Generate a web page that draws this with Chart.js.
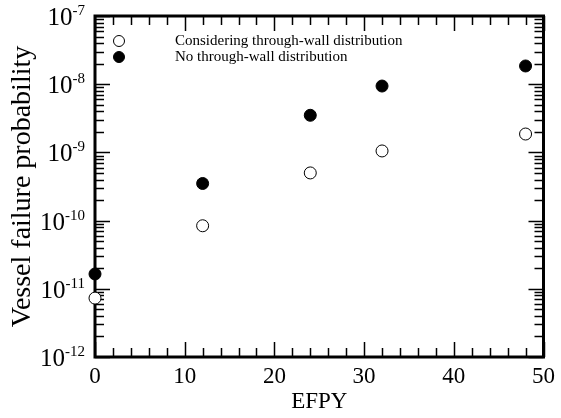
<!DOCTYPE html>
<html>
<head>
<meta charset="utf-8">
<script src="https://cdn.jsdelivr.net/npm/chart.js@4.4.0/dist/chart.umd.min.js"></script>
<style>
  html, body { margin: 0; padding: 0; background: #fff; }
  #wrap { width: 561px; height: 418px; }
</style>
</head>
<body>
<div id="wrap"><canvas id="chart" width="561" height="418"></canvas></div>
<script>
// EFPY values and failure probabilities
const efpy = [0, 12, 24, 32, 48];
const withThroughWall = [7.3e-12, 8.4e-11, 5.0e-10, 1.05e-9, 1.86e-9];
const noThroughWall = [1.65e-11, 3.5e-10, 3.5e-9, 9.4e-9, 1.85e-8];
const xMajorTicks = [0, 10, 20, 30, 40, 50];
const yExponents = [-12, -11, -10, -9, -8, -7];
const legendLabels = ['Considering through-wall distribution', 'No through-wall distribution'];

const FONT = '"Liberation Serif", "Times New Roman", serif';

function toPoints(ys) {
    return efpy.map((x, i) => ({ x: x, y: ys[i] }));
}

// Frame, inward ticks on all four sides, y labels with superscripts, legend
const framePlugin = {
    id: 'frame',
    beforeDatasetsDraw(chart) {
        const ctx = chart.ctx;
        const a = chart.chartArea;
        const xs = chart.scales.x;
        const ys = chart.scales.y;
        ctx.save();
        ctx.strokeStyle = '#000';
        ctx.lineWidth = 1.5;

        // x ticks (bottom and top)
        for (let v = 0; v <= 50; v += 2) {
            const px = Math.round(xs.getPixelForValue(v)) + 0.5;
            const len = v % 10 === 0 ? 15 : 9;
            ctx.beginPath();
            ctx.moveTo(px, a.bottom); ctx.lineTo(px, a.bottom - len);
            ctx.moveTo(px, a.top); ctx.lineTo(px, a.top + len);
            ctx.stroke();
        }
        // y ticks (left and right)
        yExponents.forEach(e => {
            for (let m = 1; m <= 9; m++) {
                if (e === -7 && m > 1) break;
                const py = Math.round(ys.getPixelForValue(m * Math.pow(10, e))) + 0.5;
                const len = m === 1 ? 15 : 9;
                ctx.beginPath();
                ctx.moveTo(a.left, py); ctx.lineTo(a.left + len, py);
                ctx.moveTo(a.right, py); ctx.lineTo(a.right - len, py);
                ctx.stroke();
            }
        });

        // frame
        ctx.lineWidth = 3;
        ctx.strokeRect(a.left, a.top, a.right - a.left, a.bottom - a.top);

        // y tick labels 10^e
        ctx.fillStyle = '#000';
        ctx.textBaseline = 'alphabetic';
        yExponents.forEach(e => {
            const py = ys.getPixelForValue(Math.pow(10, e));
            const expText = String(e);
            ctx.font = '15px ' + FONT;
            const ew = ctx.measureText(expText).width;
            const right = a.left - 10;
            ctx.textAlign = 'left';
            ctx.fillText(expText, right - ew, py - 1);
            ctx.font = '25px ' + FONT;
            ctx.textAlign = 'right';
            ctx.fillText('10', right - ew, py + 9);
        });

        // legend
        const lx = a.left + 24;
        const rows = [a.top + 25, a.top + 41];
        ctx.font = '15px ' + FONT;
        ctx.textAlign = 'left';
        ctx.textBaseline = 'middle';
        rows.forEach((ry, i) => {
            ctx.beginPath();
            ctx.arc(lx, ry, 5.5, 0, Math.PI * 2);
            ctx.fillStyle = i === 0 ? '#fff' : '#000';
            ctx.fill();
            ctx.lineWidth = 1;
            ctx.strokeStyle = '#000';
            ctx.stroke();
            ctx.fillStyle = '#000';
            ctx.fillText(legendLabels[i], a.left + 80, ry);
        });
        ctx.restore();
    }
};

new Chart(document.getElementById('chart'), {
    type: 'scatter',
    data: {
        datasets: [
            {
                label: legendLabels[0],
                data: toPoints(withThroughWall),
                pointRadius: 6,
                pointBackgroundColor: '#fff',
                pointBorderColor: '#000',
                pointBorderWidth: 1,
                clip: false
            },
            {
                label: legendLabels[1],
                data: toPoints(noThroughWall),
                pointRadius: 6,
                pointBackgroundColor: '#000',
                pointBorderColor: '#000',
                pointBorderWidth: 1,
                clip: false
            }
        ]
    },
    options: {
        responsive: false,
        animation: false,
        layout: { padding: { top: 16, right: 15, left: 0, bottom: 0 } },
        plugins: {
            legend: { display: false },
            tooltip: { enabled: false }
        },
        scales: {
            x: {
                type: 'linear',
                min: 0,
                max: 50,
                afterBuildTicks: scale => { scale.ticks = xMajorTicks.map(v => ({ value: v })); },
                afterFit: scale => { scale.height = 61; },
                grid: { display: false, drawTicks: false },
                border: { display: false },
                ticks: {
                    color: '#000',
                    font: { family: FONT, size: 23 },
                    padding: 6,
                    maxRotation: 0
                },
                title: {
                    display: true,
                    text: 'EFPY',
                    color: '#000',
                    font: { family: FONT, size: 23 },
                    padding: { top: 0, bottom: 2 }
                }
            },
            y: {
                type: 'logarithmic',
                min: 1e-12,
                max: 1e-7,
                afterFit: scale => { scale.width = 95; },
                grid: { display: false, drawTicks: false },
                border: { display: false },
                ticks: { display: false },
                title: {
                    display: true,
                    text: 'Vessel failure probability',
                    color: '#000',
                    font: { family: FONT, size: 28 },
                    padding: { top: 6, bottom: 0 }
                }
            }
        }
    },
    plugins: [framePlugin]
});
</script>
</body>
</html>
